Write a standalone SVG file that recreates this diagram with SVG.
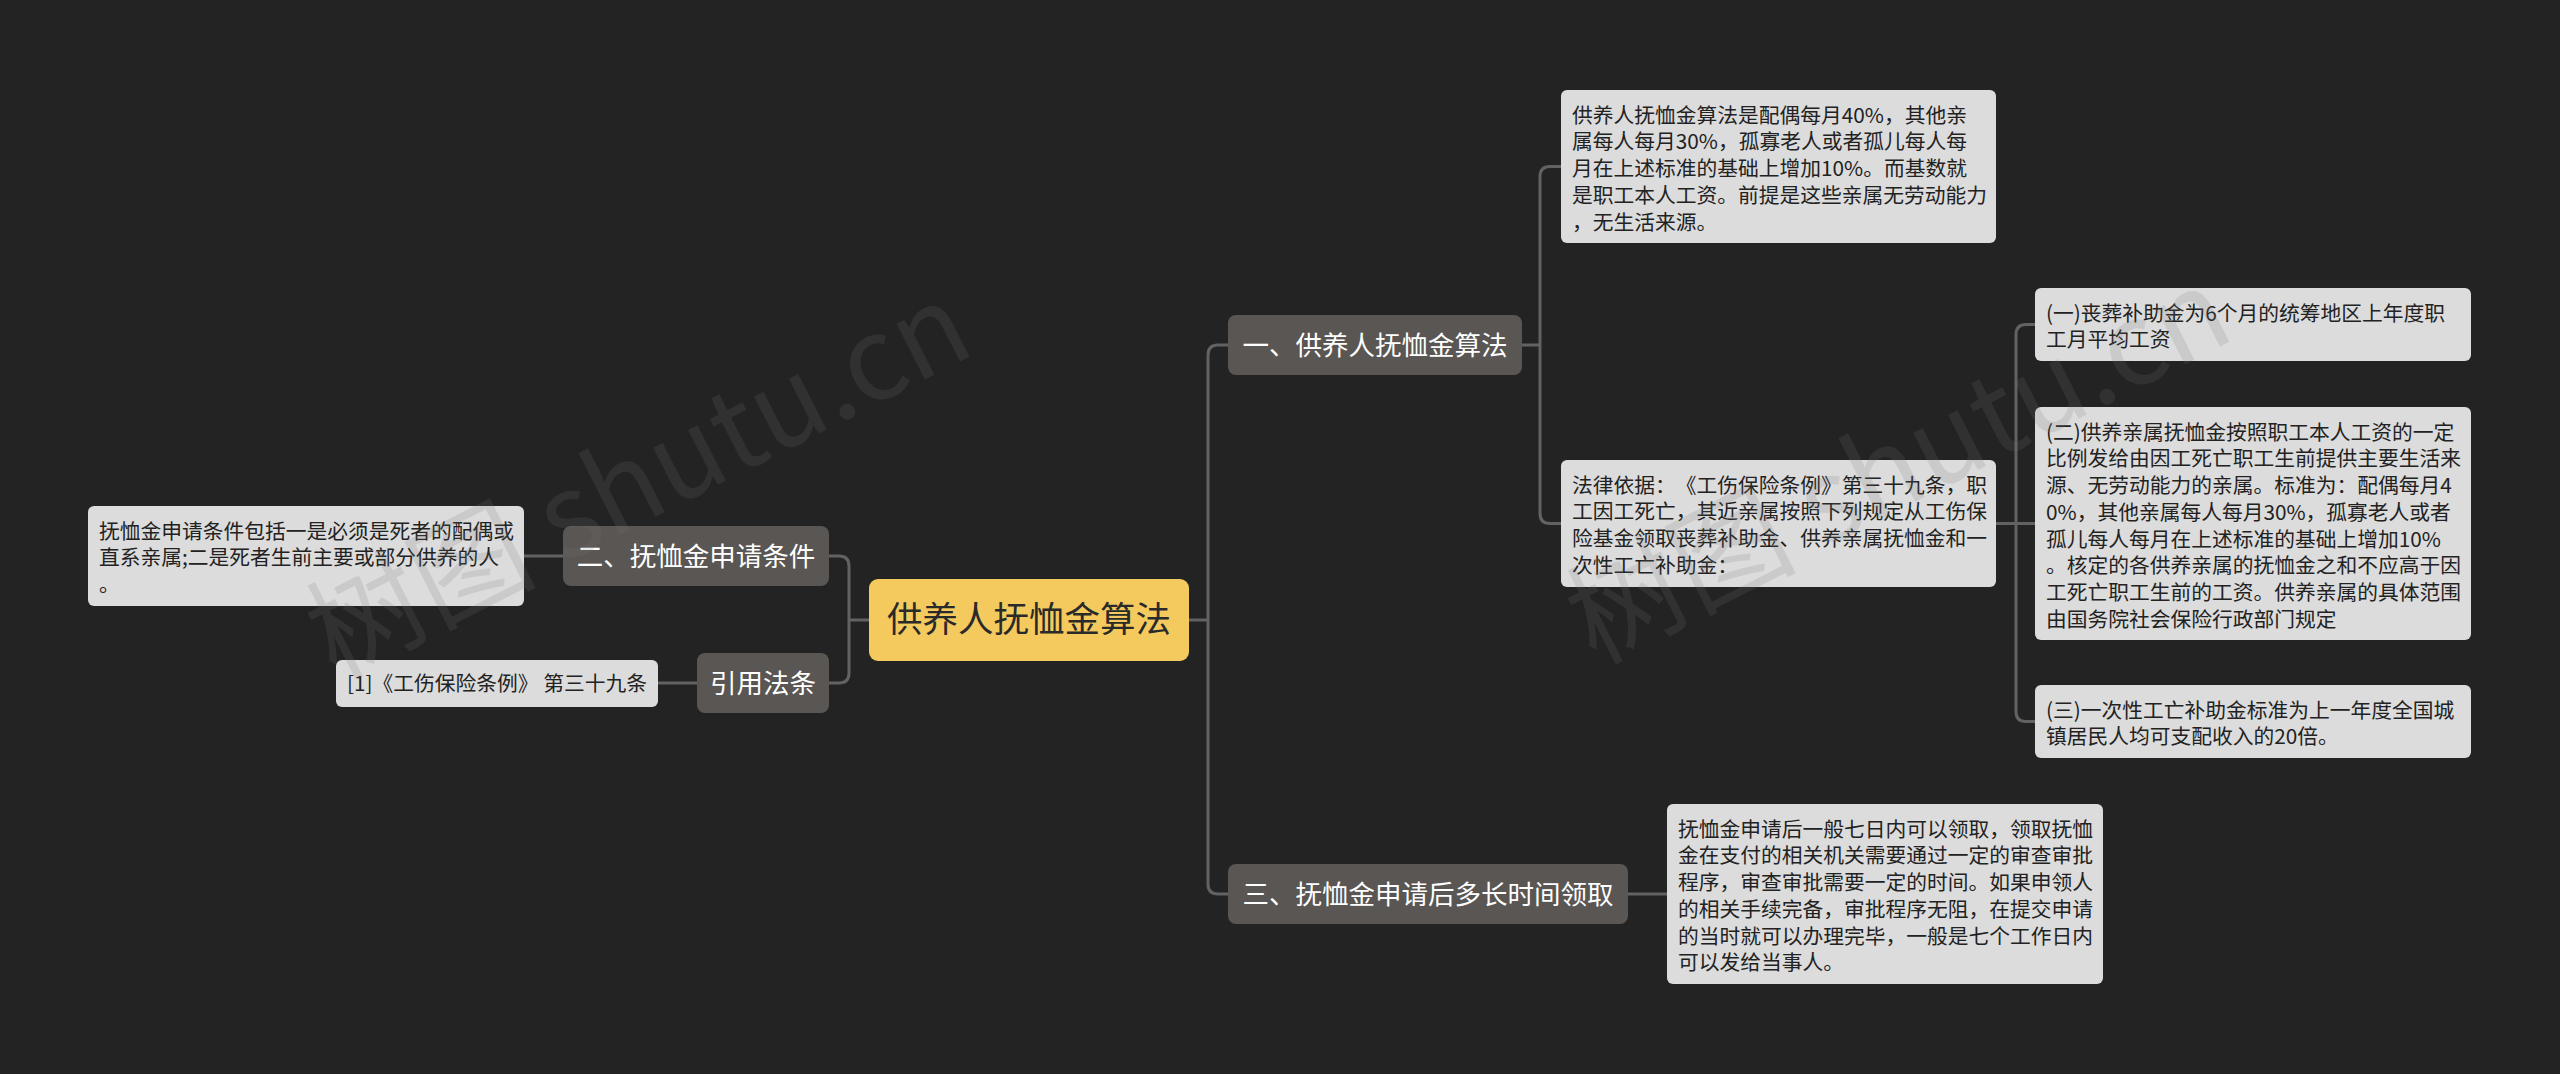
<svg xmlns="http://www.w3.org/2000/svg" width="2560" height="1074" viewBox="0 0 2560 1074">
<style>
.bg{fill:#232323}
.conn{fill:none;stroke:#626262;stroke-width:3}
.root{fill:#f4ca5e}
.branch{fill:#5a5653}
.leaf{fill:#dcdcdc}
.t{font-family:"Noto Sans CJK SC","Liberation Sans",sans-serif;text-spacing-trim:space-all}
.rt{font-size:35.5px;fill:#2a2a2a}
.bt{font-size:26.5px;fill:#ffffff}
.lt{font-size:20.75px;fill:#222222}
.wm{font-family:"Noto Sans CJK SC","Liberation Sans",sans-serif;font-size:115px;fill:#777777;opacity:0.17}
</style>
<rect class="bg" x="0" y="0" width="2560" height="1074"/>
<g id="connectors">
<path class="conn" d="M1189,620 H1208"/>
<path class="conn" d="M1228,345 H1218 Q1208,345 1208,355 V884 Q1208,894 1218,894 H1228"/>
<path class="conn" d="M870,620 H849"/>
<path class="conn" d="M829,556 H839 Q849,556 849,566 V673 Q849,683 839,683 H829"/>
<path class="conn" d="M1522,345 H1540"/>
<path class="conn" d="M1561,166.5 H1550 Q1540,166.5 1540,176.5 V513.5 Q1540,523.5 1550,523.5 H1561"/>
<path class="conn" d="M1996,523.5 H2035"/>
<path class="conn" d="M2035,324.5 H2026 Q2016,324.5 2016,334.5 V711.5 Q2016,721.5 2026,721.5 H2035"/>
<path class="conn" d="M1628,894 H1667"/>
<path class="conn" d="M658,683 H697"/>
<path class="conn" d="M524,556 H563"/>
</g>
<g id="root">
<rect class="root" x="869" y="579" width="320" height="82" rx="9"/>
<text class="t rt" x="1029" y="632" text-anchor="middle">供养人抚恤金算法</text>
</g>
<g id="b1">
<rect class="branch" x="1228" y="315" width="294" height="60" rx="8"/>
<text class="t bt" x="1375" y="355" text-anchor="middle">一、供养人抚恤金算法</text>
</g>
<g id="b3">
<rect class="branch" x="1228" y="864" width="400" height="60" rx="8"/>
<text class="t bt" x="1428" y="904" text-anchor="middle">三、抚恤金申请后多长时间领取</text>
</g>
<g id="b2">
<rect class="branch" x="563" y="526" width="266" height="60" rx="8"/>
<text class="t bt" x="696" y="566" text-anchor="middle">二、抚恤金申请条件</text>
</g>
<g id="b4">
<rect class="branch" x="697" y="653" width="132" height="60" rx="8"/>
<text class="t bt" x="763" y="693" text-anchor="middle">引用法条</text>
</g>
<g id="leaf1">
<rect class="leaf" x="1561" y="90" width="435" height="153" rx="6"/>
<text class="t lt" x="1572" y="122.5">供养人抚恤金算法是配偶每月40%，其他亲</text>
<text class="t lt" x="1572" y="149.25">属每人每月30%，孤寡老人或者孤儿每人每</text>
<text class="t lt" x="1572" y="176">月在上述标准的基础上增加10%。而基数就</text>
<text class="t lt" x="1572" y="202.75">是职工本人工资。前提是这些亲属无劳动能力</text>
<text class="t lt" x="1572" y="229.5">，无生活来源。</text>
</g>
<g id="leaf2">
<rect class="leaf" x="1561" y="460" width="435" height="127" rx="6"/>
<text class="t lt" x="1572" y="492.5">法律依据：《工伤保险条例》第三十九条，职</text>
<text class="t lt" x="1572" y="519.25">工因工死亡，其近亲属按照下列规定从工伤保</text>
<text class="t lt" x="1572" y="546">险基金领取丧葬补助金、供养亲属抚恤金和一</text>
<text class="t lt" x="1572" y="572.75">次性工亡补助金：</text>
</g>
<g id="leaf3">
<rect class="leaf" x="2035" y="288" width="436" height="73" rx="6"/>
<text class="t lt" x="2046" y="320.5">(一)丧葬补助金为6个月的统筹地区上年度职</text>
<text class="t lt" x="2046" y="347.25">工月平均工资</text>
</g>
<g id="leaf4">
<rect class="leaf" x="2035" y="407" width="436" height="233" rx="6"/>
<text class="t lt" x="2046" y="439.5">(二)供养亲属抚恤金按照职工本人工资的一定</text>
<text class="t lt" x="2046" y="466.25">比例发给由因工死亡职工生前提供主要生活来</text>
<text class="t lt" x="2046" y="493">源、无劳动能力的亲属。标准为：配偶每月4</text>
<text class="t lt" x="2046" y="519.75">0%，其他亲属每人每月30%，孤寡老人或者</text>
<text class="t lt" x="2046" y="546.5">孤儿每人每月在上述标准的基础上增加10%</text>
<text class="t lt" x="2046" y="573.25">。核定的各供养亲属的抚恤金之和不应高于因</text>
<text class="t lt" x="2046" y="600">工死亡职工生前的工资。供养亲属的具体范围</text>
<text class="t lt" x="2046" y="626.75">由国务院社会保险行政部门规定</text>
</g>
<g id="leaf5">
<rect class="leaf" x="2035" y="685" width="436" height="73" rx="6"/>
<text class="t lt" x="2046" y="717.5">(三)一次性工亡补助金标准为上一年度全国城</text>
<text class="t lt" x="2046" y="744.25">镇居民人均可支配收入的20倍。</text>
</g>
<g id="leaf6">
<rect class="leaf" x="1667" y="804" width="436" height="180" rx="6"/>
<text class="t lt" x="1678" y="836.5">抚恤金申请后一般七日内可以领取，领取抚恤</text>
<text class="t lt" x="1678" y="863.25">金在支付的相关机关需要通过一定的审查审批</text>
<text class="t lt" x="1678" y="890">程序，审查审批需要一定的时间。如果申领人</text>
<text class="t lt" x="1678" y="916.75">的相关手续完备，审批程序无阻，在提交申请</text>
<text class="t lt" x="1678" y="943.5">的当时就可以办理完毕，一般是七个工作日内</text>
<text class="t lt" x="1678" y="970.25">可以发给当事人。</text>
</g>
<g id="leaf7">
<rect class="leaf" x="88" y="506" width="436" height="100" rx="6"/>
<text class="t lt" x="99" y="538.5">抚恤金申请条件包括一是必须是死者的配偶或</text>
<text class="t lt" x="99" y="565.25">直系亲属;二是死者生前主要或部分供养的人</text>
<text class="t lt" x="99" y="592">。</text>
</g>
<g id="leaf8">
<rect class="leaf" x="336" y="660" width="322" height="47" rx="6"/>
<text class="t lt" x="347" y="691">[1]《工伤保险条例》 第三十九条</text>
</g>
<g id="watermarks">
<text class="wm" transform="translate(335,680) rotate(-27)">树图 shutu.cn</text>
<text class="wm" transform="translate(1595,665) rotate(-27)">树图 shutu.cn</text>
</g>
</svg>
